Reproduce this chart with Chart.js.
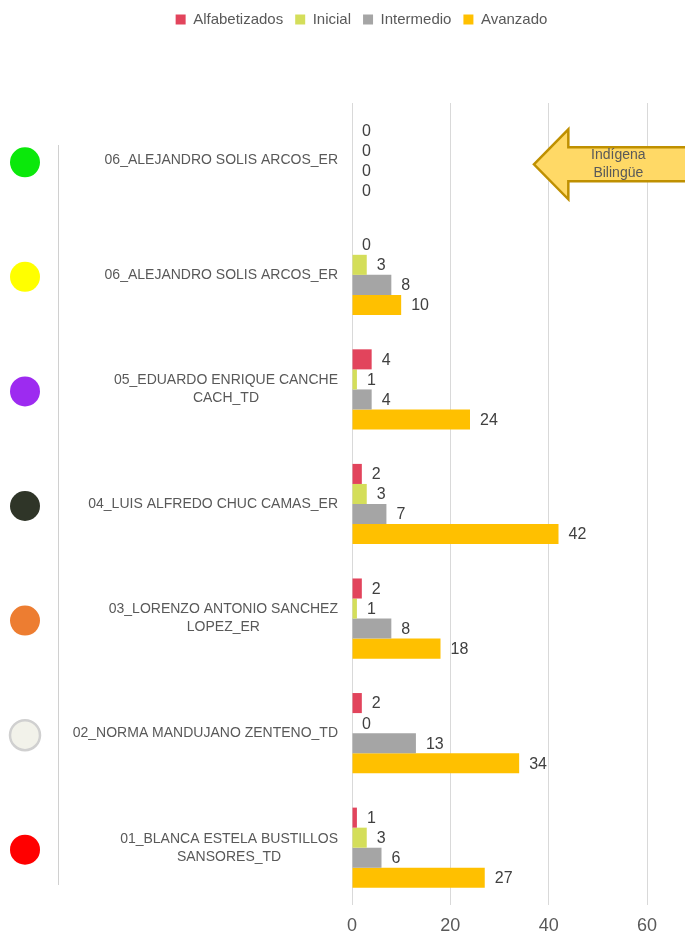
<!DOCTYPE html>
<html>
<head>
<meta charset="utf-8">
<script src="https://cdn.jsdelivr.net/npm/chart.js@4"></script>
<style>
  html, body { margin: 0; padding: 0; background: #fff; }
  #wrap { width: 685px; height: 934px; }
</style>
</head>
<body>
<div id="wrap"><canvas id="levelsChart"></canvas></div>
<script>
const categories = [
        ['06_ALEJANDRO SOLIS ARCOS_ER'],
        ['06_ALEJANDRO SOLIS ARCOS_ER'],
        ['05_EDUARDO ENRIQUE CANCHE', 'CACH_TD'],
        ['04_LUIS ALFREDO CHUC CAMAS_ER'],
        ['03_LORENZO ANTONIO SANCHEZ', 'LOPEZ_ER'],
        ['02_NORMA MANDUJANO ZENTENO_TD'],
        ['01_BLANCA ESTELA BUSTILLOS', 'SANSORES_TD']
];
const alfabetizados = [0, 0, 4, 2, 2, 2, 1];
const inicial = [0, 3, 1, 3, 1, 0, 3];
const intermedio = [0, 8, 4, 7, 8, 13, 6];
const avanzado = [0, 10, 24, 42, 18, 34, 27];
const xTicks = [0, 20, 40, 60];
const dotColors = ['#0be80b', '#ffff00', '#9d2bf0', '#2f3528', '#ed7d31', '#f2f2ea', '#ff0000'];
const arrowText = ['Indígena', 'Bilingüe'];

const FONT = "'Liberation Sans', Arial, sans-serif";
const TEXT = '#595959';

// value labels at the end of each bar
const valueLabels = {
        id: 'valueLabels',
        afterDatasetsDraw(chart) {
                const ctx = chart.ctx;
                ctx.save();
                ctx.font = '16px ' + FONT;
                ctx.fillStyle = '#404040';
                ctx.textAlign = 'left';
                ctx.textBaseline = 'middle';
                chart.data.datasets.forEach((ds, i) => {
                        chart.getDatasetMeta(i).data.forEach((bar, j) => {
                                ctx.fillText(String(ds.data[j]), bar.x + 10, bar.y + 1);
                        });
                });
                ctx.restore();
        }
};

// category labels (block right aligned, lines centered), dots and side line
const sideDecor = {
        id: 'sideDecor',
        afterDraw(chart) {
                const ctx = chart.ctx;
                const y = chart.scales.y;
                const area = chart.chartArea;
                ctx.save();
                ctx.strokeStyle = '#d0d0d0';
                ctx.lineWidth = 1;
                ctx.beginPath();
                ctx.moveTo(58.5, area.top + 42);
                ctx.lineTo(58.5, area.bottom - 20);
                ctx.stroke();

                ctx.font = '14px ' + FONT;
                ctx.fillStyle = TEXT;
                ctx.textAlign = 'center';
                ctx.textBaseline = 'middle';
                categories.forEach((lines, i) => {
                        const cy = y.getPixelForValue(i);
                        const w = Math.max(...lines.map(l => ctx.measureText(l).width));
                        const cx = area.left - 14 - w / 2;
                        const lh = 18;
                        lines.forEach((l, k) => {
                                ctx.fillText(l, cx, cy + (k - (lines.length - 1) / 2) * lh);
                        });

                        ctx.beginPath();
                        ctx.arc(25, cy + 2, 15, 0, Math.PI * 2);
                        ctx.fillStyle = dotColors[i];
                        ctx.fill();
                        if (i === 5) {
                                ctx.strokeStyle = '#d0d0d0';
                                ctx.lineWidth = 2.5;
                                ctx.stroke();
                        }
                        ctx.fillStyle = TEXT;
                });
                ctx.restore();
        }
};

// callout arrow next to the first category
const calloutArrow = {
        id: 'calloutArrow',
        afterDraw(chart) {
                const ctx = chart.ctx;
                const x = chart.scales.x;
                const cy = chart.scales.y.getPixelForValue(0) + 4;
                const tip = x.getPixelForValue(37);
                const base = x.getPixelForValue(44);
                const right = chart.width + 4;
                ctx.save();
                ctx.beginPath();
                ctx.moveTo(tip, cy);
                ctx.lineTo(base, cy - 35);
                ctx.lineTo(base, cy - 17);
                ctx.lineTo(right, cy - 17);
                ctx.lineTo(right, cy + 17);
                ctx.lineTo(base, cy + 17);
                ctx.lineTo(base, cy + 35);
                ctx.closePath();
                ctx.fillStyle = '#ffd966';
                ctx.fill();
                ctx.strokeStyle = '#bf9000';
                ctx.lineWidth = 2.5;
                ctx.stroke();
                ctx.font = '14px ' + FONT;
                ctx.fillStyle = TEXT;
                ctx.textAlign = 'center';
                ctx.textBaseline = 'middle';
                ctx.fillText(arrowText[0], base + 50, cy - 9);
                ctx.fillText(arrowText[1], base + 50, cy + 9);
                ctx.restore();
        }
};

const legendSpace = {
        id: 'legendSpace',
        beforeInit(chart) {
                const fit = chart.legend.fit;
                chart.legend.fit = function () {
                        fit.bind(chart.legend)();
                        this.height = 103;
                };
        },
        afterLayout(chart) {
                chart.legend.left += 38;
                chart.legend.right += 38;
        }
};

document.addEventListener('DOMContentLoaded', () => {
        const ctx = document.getElementById('levelsChart').getContext('2d');
        const data = {
                labels: categories,
                datasets: [
                        { label: 'Alfabetizados', data: alfabetizados, backgroundColor: '#e2445c' },
                        { label: 'Inicial', data: inicial, backgroundColor: '#d4de5a' },
                        { label: 'Intermedio', data: intermedio, backgroundColor: '#a5a5a5' },
                        { label: 'Avanzado', data: avanzado, backgroundColor: '#ffc000' }
                ]
        };

        const config = {
                type: 'bar',
                data: data,
                options: {
                        indexAxis: 'y',
                        responsive: true,
                        maintainAspectRatio: false,
                        animation: false,
                        categoryPercentage: 0.7,
                        barPercentage: 1.0,
                        layout: { padding: { top: 0, right: 38, bottom: 0, left: 0 } },
                        plugins: {
                                legend: {
                                        position: 'top',
                                        labels: {
                                                boxWidth: 10,
                                                boxHeight: 10,
                                                padding: 12,
                                                color: TEXT,
                                                font: { family: FONT, size: 15 }
                                        }
                                },
                                tooltip: { enabled: false }
                        },
                        scales: {
                                x: {
                                        min: 0,
                                        max: 60,
                                        afterBuildTicks: (scale) => {
                                                scale.ticks = xTicks.map(v => ({ value: v }));
                                        },
                                        afterFit: (scale) => { scale.height = 29; },
                                        grid: { color: '#d9d9d9', lineWidth: 1, drawTicks: false },
                                        border: { display: false },
                                        ticks: {
                                                padding: 10,
                                                color: TEXT,
                                                font: { family: FONT, size: 18 }
                                        }
                                },
                                y: {
                                        grid: { display: false },
                                        border: { display: false },
                                        ticks: { display: false },
                                        afterFit: (scale) => { scale.width = 352; }
                                }
                        }
                },
                plugins: [valueLabels, sideDecor, calloutArrow, legendSpace]
        };

        new Chart(ctx, config);
});
</script>
</body>
</html>
